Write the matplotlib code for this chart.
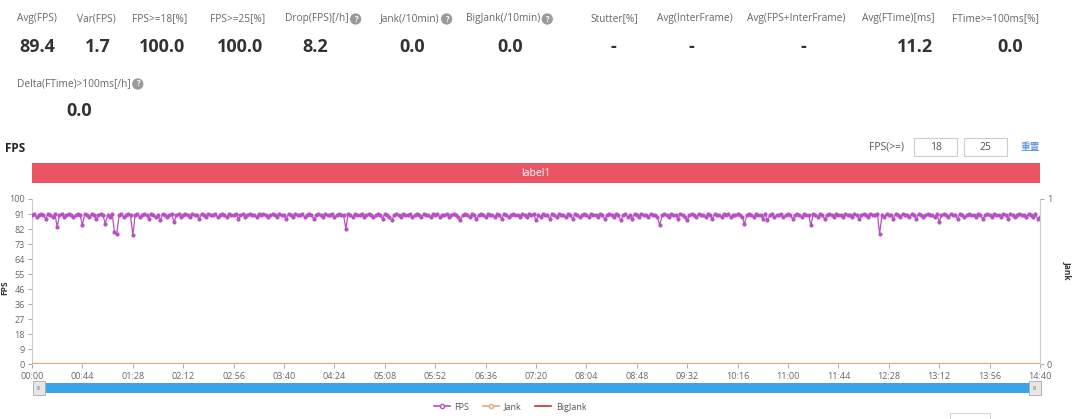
import numpy as np
import matplotlib
matplotlib.use("Agg")
import matplotlib.pyplot as plt
from matplotlib.patches import Rectangle
from matplotlib.lines import Line2D

plt.rcParams['font.family'] = ['Open Sans', 'Noto Sans CJK SC', 'DejaVu Sans']

# ---------------- data ----------------
stat_labels = ["Avg(FPS)", "Var(FPS)", "FPS>=18[%]", "FPS>=25[%]", "Drop(FPS)[/h]",
               "Jank(/10min)", "BigJank(/10min)", "Stutter[%]", "Avg(InterFrame)",
               "Avg(FPS+InterFrame)", "Avg(FTime)[ms]", "FTime>=100ms[%]"]
stat_values = ["89.4", "1.7", "100.0", "100.0", "8.2", "0.0", "0.0", "-", "-", "-", "11.2", "0.0"]
stat_help = [False, False, False, False, True, True, True, False, False, False, False, False]
stat2_label = "Delta(FTime)>100ms[/h]"
stat2_value = "0.0"

sample_interval_s = 2
fps = [90, 91, 89, 90, 91, 90, 88, 91, 90, 89, 91, 83, 90, 91, 89, 90, 91, 90, 89, 90, 91,
       90, 84, 91, 90, 89, 91, 90, 88, 90, 91, 90, 85, 90, 89, 91, 80, 79, 90, 91, 89, 90,
       91, 90, 78, 90, 91, 89, 90, 91, 90, 88, 91, 90, 89, 90, 87, 91, 90, 89, 90, 91, 86,
       90, 91, 89, 90, 91, 90, 89, 91, 90, 90, 88, 91, 90, 89, 91, 90, 90, 91, 89, 90, 91,
       90, 89, 91, 90, 90, 91, 88, 90, 91, 89, 90, 91, 90, 90, 89, 91, 90, 91, 90, 89, 90,
       91, 90, 89, 91, 90, 90, 88, 91, 90, 89, 91, 90, 90, 91, 89, 90, 91, 90, 88, 90, 91,
       90, 89, 91, 90, 90, 91, 89, 90, 91, 90, 90, 82, 91, 90, 89, 91, 90, 90, 91, 89, 90,
       91, 90, 89, 90, 91, 90, 88, 91, 90, 89, 87, 90, 91, 90, 89, 91, 90, 90, 91, 89, 90,
       91, 90, 89, 91, 90, 90, 89, 91, 90, 91, 89, 90, 90, 91, 89, 90, 91, 90, 89, 87, 90,
       91, 90, 89, 91, 90, 88, 90, 91, 90, 89, 91, 90, 90, 89, 91, 90, 88, 91, 90, 89, 90,
       91, 90, 90, 89, 91, 90, 89, 91, 90, 91, 87, 90, 89, 91, 90, 90, 88, 91, 90, 89, 91,
       90, 90, 89, 91, 90, 88, 91, 90, 89, 90, 91, 90, 89, 91, 90, 90, 89, 91, 90, 88, 90,
       91, 90, 89, 91, 90, 87, 90, 91, 89, 90, 88, 91, 90, 89, 91, 90, 90, 89, 91, 90, 90,
       89, 84, 90, 91, 90, 89, 91, 90, 90, 88, 91, 90, 89, 87, 90, 91, 90, 89, 91, 90, 90,
       89, 91, 90, 88, 91, 90, 90, 89, 91, 90, 91, 89, 90, 90, 91, 90, 89, 85, 90, 91, 90,
       89, 91, 90, 90, 88, 91, 87, 90, 91, 89, 90, 90, 91, 89, 90, 91, 90, 88, 90, 91, 90,
       89, 91, 90, 90, 84, 91, 90, 89, 91, 90, 88, 90, 91, 90, 89, 91, 90, 90, 89, 91, 90,
       90, 89, 91, 90, 88, 90, 91, 90, 89, 91, 90, 90, 91, 79, 90, 89, 91, 90, 90, 88, 91,
       90, 89, 91, 90, 90, 89, 91, 90, 88, 91, 90, 89, 90, 91, 90, 90, 89, 91, 86, 90, 91,
       90, 89, 91, 90, 90, 88, 91, 90, 89, 90, 91, 90, 90, 89, 91, 90, 88, 90, 91, 90, 89,
       91, 90, 90, 89, 91, 90, 88, 91, 90, 89, 90, 91, 90, 90, 89, 91, 90, 89, 91, 88, 89]
jank = [0] * len(fps)
bigjank = [0] * len(fps)

x_tick_labels = ["00:00", "00:44", "01:28", "02:12", "02:56", "03:40", "04:24", "05:08",
                 "05:52", "06:36", "07:20", "08:04", "08:48", "09:32", "10:16", "11:00",
                 "11:44", "12:28", "13:12", "13:56", "14:40"]
y_tick_labels = ["0", "9", "18", "27", "36", "46", "55", "64", "73", "82", "91", "100"]
fps_thresholds = ["18", "25"]
banner_label = "label1"

# ---------------- figure ----------------
W, H = 1080, 419
fig = plt.figure(figsize=(W / 100, H / 100), dpi=100)
fig.patch.set_facecolor("white")


def P(x, y):
    return (x / W, 1 - y / H)


def help_icon(x, y):
    fig.text(*P(x, y), "?", fontsize=5.5, color="white", ha="center", va="center",
             fontweight="bold",
             bbox=dict(boxstyle="circle,pad=0.15", fc="#9a9a9a", ec="none"))


label_x = [17, 77, 132, 210, 285, 380, 466, 590, 657, 747, 862, 952]
value_cx = [37, 98, 162, 240, 315, 412, 510, 613, 691, 803, 915, 1010]
renderer = fig.canvas.get_renderer()
for lab, val, hlp, lx, vx in zip(stat_labels, stat_values, stat_help, label_x, value_cx):
    tt = fig.text(*P(lx, 19), lab, fontsize=7.3, color="#666666", ha="left", va="center")
    if hlp:
        bb = tt.get_window_extent(renderer)
        help_icon(bb.x1 + 7, 19)
    fig.text(*P(vx, 47), val, fontsize=13, color="#333333", fontweight="bold",
             ha="center", va="center")

tt = fig.text(*P(17, 84), stat2_label, fontsize=7.3, color="#666666", ha="left", va="center")
bb = tt.get_window_extent(renderer)
help_icon(bb.x1 + 7, 84)
fig.text(*P(79, 111), stat2_value, fontsize=13, color="#333333", fontweight="bold",
         ha="center", va="center")

# FPS title
fig.text(*P(5, 148), "FPS", fontsize=8.5, color="#222222", fontweight="bold",
         ha="left", va="center")

# threshold controls
fig.text(*P(887, 147), "FPS(>=)", fontsize=7.5, color="#555555", ha="center", va="center")
box_x = [914, 964]
for bx, thr in zip(box_x, fps_thresholds):
    fig.patches.append(Rectangle(P(bx, 156), 43 / W, 18 / H, transform=fig.transFigure,
                                 fc="white", ec="#cccccc", lw=0.8))
    fig.text(*P(bx + 21.5, 147), thr, fontsize=7.5, color="#555555", ha="center", va="center")
fig.text(*P(1030, 147), "重置", fontsize=7, color="#4a7fd6", ha="center", va="center",
         family=["Noto Sans CJK SC", "DejaVu Sans"])

# banner
fig.patches.append(Rectangle(P(32, 183), 1008 / W, 20 / H, transform=fig.transFigure,
                             fc="#ea5565", ec="none"))
fig.text(*P(536, 173), banner_label, fontsize=7.5, color="white", ha="center", va="center")

# ---------------- chart ----------------
ax = fig.add_axes([32 / W, 1 - 364 / H, 1008 / W, 165 / H])
t = np.arange(len(fps)) * sample_interval_s


def to_sec(s):
    m, sec = s.split(":")
    return int(m) * 60 + int(sec)


xticks = [to_sec(s) for s in x_tick_labels]
ax.set_xlim(xticks[0], xticks[-1])
ax.set_ylim(0, 100)
ax.plot(t, fps, color="#b94fc4", lw=0.9, marker="o", ms=2.0, mfc="#b94fc4",
        mec="#b94fc4", zorder=3)

yticks = [i * 100 / (len(y_tick_labels) - 1) for i in range(len(y_tick_labels))]
ax.set_yticks(yticks)
ax.set_yticklabels(y_tick_labels)
ax.set_xticks(xticks)
ax.set_xticklabels(x_tick_labels)
ax.tick_params(axis="both", labelsize=6.5, colors="#999999", labelcolor="#666666",
               length=3, width=0.6, pad=2)
ax.tick_params(axis="x", pad=3)
for s in ["top", "right"]:
    ax.spines[s].set_visible(False)
ax.spines["left"].set_color("#cccccc")
ax.spines["bottom"].set_visible(False)
fig.text(*P(5, 288), "FPS", fontsize=6, fontweight="bold", color="#333333",
         rotation=90, ha="center", va="center")

ax2 = ax.twinx()
ax2.set_ylim(0, 1)
ax2.set_yticks([0, 1])
ax2.set_yticklabels(["0", "1"])
ax2.plot(t, bigjank, color="#c23531", lw=1.2, zorder=2)
ax2.plot(t, jank, color="#e8a57a", lw=1.6, zorder=2)
ax2.tick_params(axis="y", labelsize=6.5, colors="#999999", labelcolor="#666666",
                length=3, width=0.6, pad=2)
for s in ["top", "left", "bottom"]:
    ax2.spines[s].set_visible(False)
ax2.spines["right"].set_color("#cccccc")
fig.text(*P(1067, 270), "Jank", fontsize=6, fontweight="bold", color="#333333",
         rotation=-90, ha="center", va="center")

# ---------------- slider ----------------
fig.patches.append(Rectangle(P(38, 393), 1000 / W, 10 / H, transform=fig.transFigure,
                             fc="#3aa5ea", ec="none"))
for hx in [33, 1029]:
    fig.patches.append(Rectangle(P(hx, 395), 12 / W, 14 / H, transform=fig.transFigure,
                                 fc="#e6e6e6", ec="#aaaaaa", lw=0.6))
    fig.text(*P(hx + 6, 388), "III", fontsize=4, color="#888888", ha="center", va="center")

# ---------------- legend ----------------
handles = [
    Line2D([], [], color="#b94fc4", lw=1.2, marker="o", ms=3, mfc="white"),
    Line2D([], [], color="#e8a57a", lw=1.2, marker="o", ms=3, mfc="white"),
    Line2D([], [], color="#c23531", lw=1.2),
]
leg = fig.legend(handles, ["FPS", "Jank", "BigJank"], loc="center",
                 bbox_to_anchor=P(510, 407), ncol=3, frameon=False, fontsize=6.5,
                 handlelength=1.8, columnspacing=1.5, handletextpad=0.5)
for txt in leg.get_texts():
    txt.set_color("#555555")

# partial box at bottom right
fig.patches.append(Rectangle(P(950, 425), 40 / W, 12 / H, transform=fig.transFigure,
                             fc="white", ec="#cccccc", lw=0.6))

fig.savefig("out.png", dpi=100)
